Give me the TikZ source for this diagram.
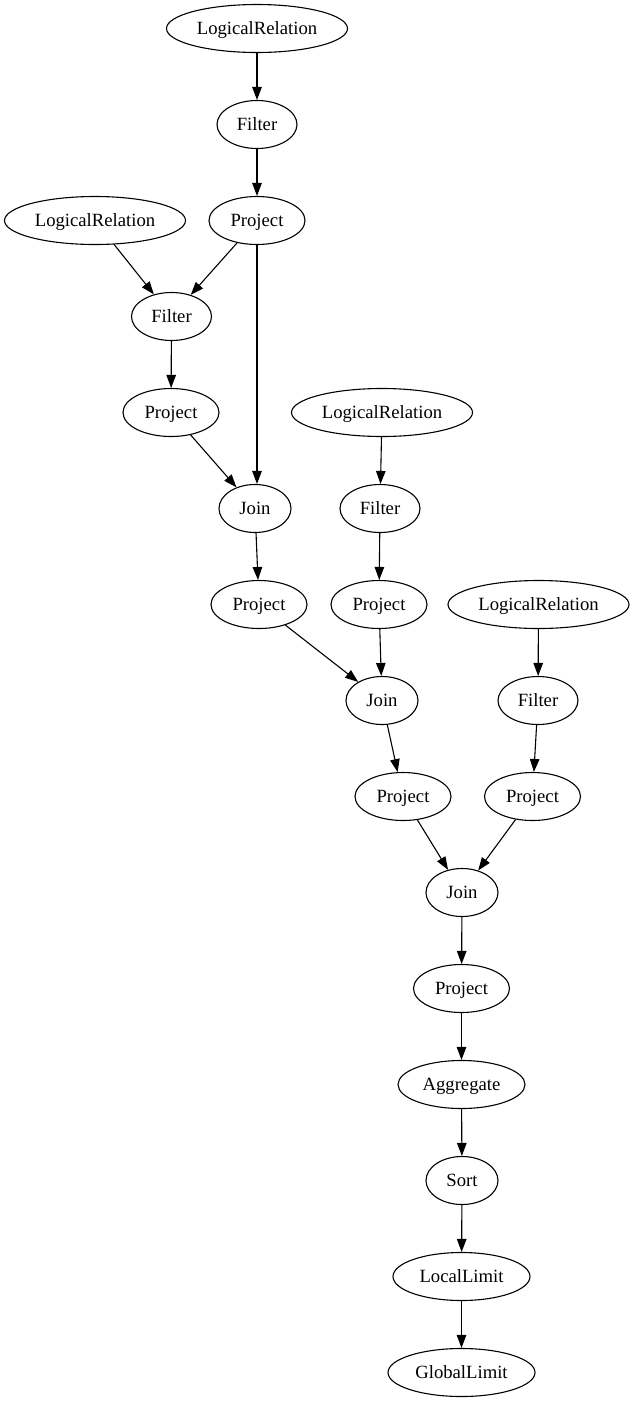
\documentclass[tikz,border=0pt]{standalone}
\usepackage{fontspec}
\setmainfont{Liberation Serif}
\usetikzlibrary{shapes.geometric,arrows.meta}
\begin{document}
\begin{tikzpicture}[x=1pt,y=-1pt,
  nd/.style={ellipse,draw,line width=1.1pt,minimum height=48pt,inner sep=0pt,
    text height=16.4pt,text depth=4pt,
    font=\fontsize{18.67}{22}\selectfont},
  lr/.style={nd,minimum width=181pt},
  fl/.style={nd,minimum width=80pt},
  pj/.style={nd,minimum width=96pt},
  jn/.style={nd,minimum width=72pt},
  ed/.style={line width=1.1pt,-{Triangle[length=13pt,width=9.5pt]}}]
\useasboundingbox (0,0) rectangle (639,1403);
\node[lr] (lr1) at (257,28.5) {LogicalRelation};
\node[fl] (f1) at (257,124.5) {Filter};
\node[pj] (p1) at (257,220.5) {Project};
\node[lr] (lr2) at (95,220.5) {LogicalRelation};
\node[fl] (f2) at (171.5,316.5) {Filter};
\node[pj] (p2) at (171,412.5) {Project};
\node[jn] (j1) at (255,508.5) {Join};
\node[lr] (lr3) at (382,412.5) {LogicalRelation};
\node[fl] (f3) at (380,508.5) {Filter};
\node[pj] (p3) at (259,604.5) {Project};
\node[pj] (p4) at (379,604.5) {Project};
\node[jn] (j2) at (382,700.5) {Join};
\node[lr] (lr4) at (538.5,604.5) {LogicalRelation};
\node[fl] (f4) at (538,700.5) {Filter};
\node[pj] (p5) at (403,796.5) {Project};
\node[pj] (p6) at (532.5,796.5) {Project};
\node[jn] (j3) at (462,892.5) {Join};
\node[pj] (p7) at (461.5,988.5) {Project};
\node[nd,minimum width=127pt] (agg) at (461.5,1084.5) {Aggregate};
\node[jn] (srt) at (462,1180.5) {Sort};
\node[nd,minimum width=137pt] (ll) at (461.5,1276.5) {LocalLimit};
\node[nd,minimum width=147pt] (gl) at (461.5,1372.5) {GlobalLimit};
\draw[ed] (lr1) -- (f1);
\draw[ed] (f1) -- (p1);
\draw[ed] (lr2) -- (f2);
\draw[ed] (p1) -- (f2);
\draw[ed] (p1.south) -- (j1.north -| p1.south);
\draw[ed] (f2) -- (p2);
\draw[ed] (p2) -- (j1);
\draw[ed] (j1) -- (p3);
\draw[ed] (lr3) -- (f3);
\draw[ed] (f3) -- (p4);
\draw[ed] (p3) -- (j2);
\draw[ed] (p4) -- (j2);
\draw[ed] (j2) -- (p5);
\draw[ed] (lr4) -- (f4);
\draw[ed] (f4) -- (p6);
\draw[ed] (p5) -- (j3);
\draw[ed] (p6) -- (j3);
\draw[ed] (j3) -- (p7);
\draw[ed] (p7) -- (agg);
\draw[ed] (agg) -- (srt);
\draw[ed] (srt) -- (ll);
\draw[ed] (ll) -- (gl);
\end{tikzpicture}
\end{document}
